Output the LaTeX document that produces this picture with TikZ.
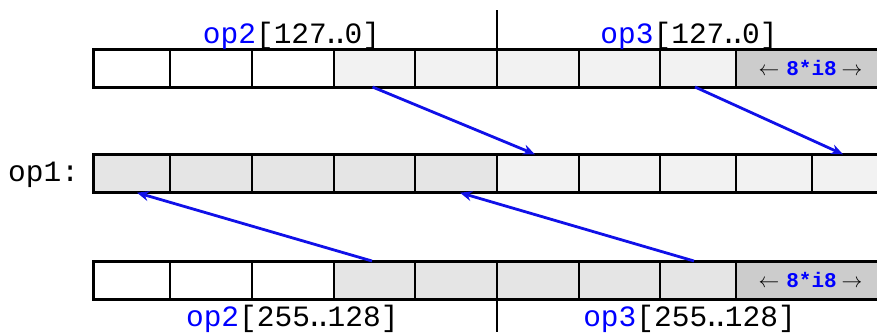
\documentclass[tikz,border=0pt]{standalone}
\usepackage{fontspec}
\setmonofont{Liberation Mono}
\usetikzlibrary{arrows.meta}
\definecolor{lite}{HTML}{F2F2F2}
\definecolor{mid}{HTML}{E5E5E5}
\definecolor{dark}{HTML}{CCCCCC}
\definecolor{arrblue}{HTML}{1010E8}
\newcommand\twodotlead{\makebox[0.6em][l]{\makebox[0.3em]{.}\makebox[0.3em]{.}}}
\begin{document}
\begin{tikzpicture}[x=1pt,y=-1pt,
  cell/.style={draw=black, line width=2pt, minimum height=38pt, inner sep=0pt, outer sep=0pt},
  frame/.style={draw=black, line width=3pt},
  lbl/.style={font=\fontsize{29.5}{32}\selectfont\ttfamily, inner sep=0pt},
  hint/.style={font=\fontsize{22}{26}\selectfont},
  conn/.style={draw=arrblue, line width=2.8pt, -{Stealth[length=12pt,width=10pt]}},
  divider/.style={draw=black, line width=2pt}]
\useasboundingbox (0,0) rectangle (877,332);

% top row
\foreach \i/\a/\b/\c in {1/93/170/white,2/170/252/white,3/252/334/white,4/334/415/lite,5/415/497/lite,6/497/579/lite,7/579/660/lite,8/660/736/lite}
  \node[cell, fill=\c, minimum width=\b-\a] (t\i) at ({(\a+\b)/2},68) {};
\node[cell, fill=dark, minimum width=149, hint] (t9) at (810.5,68)
  {$\leftarrow$\hspace{7pt}{\color{blue}\ttfamily\bfseries\fontsize{21}{24}\selectfont 8*i8}\hspace{5pt}$\rightarrow$};
\draw[frame] (t1.north west) rectangle (t9.south east);

% middle row
\foreach \i/\a/\b/\c in {1/93/170/mid,2/170/252/mid,3/252/334/mid,4/334/415/mid,5/415/497/mid,6/497/579/lite,7/579/660/lite,8/660/736/lite,9/736/812/lite,10/812/885/lite}
  \node[cell, fill=\c, minimum width=\b-\a, minimum height=38.4pt] (m\i) at ({(\a+\b)/2},173.5) {};
\draw[frame] (m1.north west) rectangle (m10.south east);

% bottom row
\foreach \i/\a/\b/\c in {1/93/170/white,2/170/252/white,3/252/334/white,4/334/415/mid,5/415/497/mid,6/497/579/mid,7/579/660/mid,8/660/736/mid}
  \node[cell, fill=\c, minimum width=\b-\a] (b\i) at ({(\a+\b)/2},280) {};
\node[cell, fill=dark, minimum width=149, hint] (b9) at (810.5,280)
  {$\leftarrow$\hspace{7pt}{\color{blue}\ttfamily\bfseries\fontsize{21}{24}\selectfont 8*i8}\hspace{5pt}$\rightarrow$};
\draw[frame] (b1.north west) rectangle (b9.south east);

% dividers
\coordinate (dtop) at (497,10);
\coordinate (dbot) at (497,332);
\draw[divider] (dtop) -- (t6.north west);
\draw[divider] (b6.south west) -- (dbot);

% labels
\node[lbl, anchor=base] (l1) at (291.5,43.3) {{\color{blue}op2}[127\twodotlead0]};
\node[lbl, anchor=base] (l2) at (689,43.3) {{\color{blue}op3}[127\twodotlead0]};
\node[lbl, anchor=base] (l3) at (292.3,326.5) {{\color{blue}op2}[255\twodotlead128]};
\node[lbl, anchor=base] (l4) at (689.5,326.5) {{\color{blue}op3}[255\twodotlead128]};
\node[lbl, anchor=base west] (l5) at (8,181) {op1:};

% connectors
\draw[conn] ([xshift=-2pt]t4.south) -- ([xshift=-3pt]m6.north);
\draw[conn] ([xshift=-3pt]t8.south) -- ([xshift=-5.5pt]m10.north);
\draw[conn] ([xshift=-2.5pt]b4.north) -- ([xshift=5.5pt]m1.south);
\draw[conn] ([xshift=-4pt]b8.north) -- ([xshift=4pt]m5.south);
\end{tikzpicture}
\end{document}
